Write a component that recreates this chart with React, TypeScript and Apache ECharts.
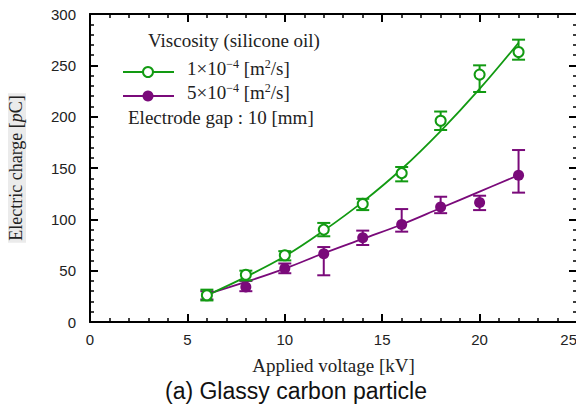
import React, { useEffect, useRef } from "react";
import * as echarts from "echarts";

// Applied voltage [kV]
const voltage = [6, 8, 10, 12, 14, 16, 18, 20, 22];

// Viscosity 1×10^-4 m²/s : mean charge and error range [pC]
const chargeLowVisc = [26, 46, 65, 90, 115, 145, 196, 241, 263];
const lowViscMin = [21, 40.5, 60, 83.5, 109, 137, 187, 224, 255.5];
const lowViscMax = [31.5, 50, 69, 96.5, 120, 151, 205, 250, 275];
const fitLowVisc = [26, 44, 64, 89, 117, 149, 186, 227, 272];

// Viscosity 5×10^-4 m²/s : mean charge and error range [pC]
const chargeHighVisc = [26, 34, 52, 66.5, 82, 95, 112, 116.5, 143];
const highViscMin = [22, 30, 47.5, 45.5, 75, 88, 106, 109, 126];
const highViscMax = [30, 40, 57, 73, 89, 110, 122, 123, 167.5];
const fitHighVisc = [27, 39, 52, 67, 81, 95, 111, 127, 143];

const xTicks = [0, 5, 10, 15, 20, 25];
const yTicks = [0, 50, 100, 150, 200, 250, 300];

const GREEN = "#129a12";
const PURPLE = "#7a0a7a";
const SERIF = "'Liberation Serif', 'DejaVu Serif', serif";
const SANS = "'Liberation Sans', Arial, sans-serif";

const pairs = (ys: number[]) => voltage.map((v, i) => [v, ys[i]]);
const ranges = (lo: number[], hi: number[]) =>
  voltage.map((v, i) => [v, lo[i], hi[i]]);

const errorBars = (color: string, lo: number[], hi: number[], z: number) => ({
  type: "custom",
  z,
  data: ranges(lo, hi),
  renderItem: (_params: any, api: any) => {
    const x = api.value(0);
    const top = api.coord([x, api.value(2)]);
    const bot = api.coord([x, api.value(1)]);
    const hw = 6.5;
    const style = { stroke: color, lineWidth: 2 };
    return {
      type: "group",
      children: [
        { type: "line", shape: { x1: top[0], y1: top[1], x2: bot[0], y2: bot[1] }, style },
        { type: "line", shape: { x1: top[0] - hw, y1: top[1], x2: top[0] + hw, y2: top[1] }, style },
        { type: "line", shape: { x1: bot[0] - hw, y1: bot[1], x2: bot[0] + hw, y2: bot[1] }, style },
      ],
    };
  },
});

const FS = 19;
const sup = { fontSize: 12, verticalAlign: "top", fontFamily: SERIF, fill: "#222", padding: [0, 0, 9, 0] };
const norm = { fontSize: FS, fontFamily: SERIF, fill: "#222" };

export default function App() {
  const ref = useRef<HTMLDivElement>(null);

  useEffect(() => {
    if (!ref.current) return;
    const chart = echarts.init(ref.current, null, { renderer: "svg" });

    const axisCommon = {
      axisLine: { show: true, onZero: false, lineStyle: { color: "#000", width: 2 } },
      axisTick: { show: true, inside: true, length: 8, lineStyle: { color: "#000", width: 2 } },
      minorTick: { show: true, splitNumber: 5, length: 4, lineStyle: { color: "#000", width: 1.5 } },
      splitLine: { show: false },
    };

    chart.setOption({
      animation: false,
      backgroundColor: "#fff",
      grid: { left: 90, right: 7, top: 14, bottom: 90, outerBoundsMode: "none", containLabel: false },
      xAxis: [
        {
          type: "value",
          min: 0,
          max: 25,
          interval: 5,
          ...axisCommon,
          axisLabel: {
            color: "#222",
            fontFamily: SANS,
            fontSize: 15,
            margin: 10,
            alignMaxLabel: "right",
            formatter: (v: number) => (xTicks.includes(v) ? String(v) : ""),
          },
          name: "Applied voltage [kV]",
          nameLocation: "middle",
          nameGap: 34,
          nameTextStyle: { fontFamily: SERIF, fontSize: FS, color: "#222" },
        },
        {
          type: "value",
          position: "top",
          min: 0,
          max: 25,
          interval: 5,
          ...axisCommon,
          axisLabel: { show: false },
        },
      ],
      yAxis: [
        {
          type: "value",
          min: 0,
          max: 300,
          interval: 50,
          ...axisCommon,
          axisLabel: {
            color: "#222",
            fontFamily: SANS,
            fontSize: 15,
            margin: 14,
            formatter: (v: number) => (yTicks.includes(v) ? String(v) : ""),
          },
          name: "{n|Electric charge [}{i|p}{n|C]}",
          nameLocation: "middle",
          nameGap: 64,
          nameRotate: 90,
          nameTextStyle: {
            backgroundColor: "#ebebeb",
            padding: [1, 2, 1, 2],
            rich: {
              n: { fontFamily: SERIF, fontSize: 18, color: "#222" },
              i: { fontFamily: SERIF, fontSize: 18, color: "#222", fontStyle: "italic" },
            },
          },
        },
        {
          type: "value",
          position: "right",
          min: 0,
          max: 300,
          interval: 50,
          ...axisCommon,
          axisLabel: { show: false },
        },
      ],
      series: [
        {
          type: "line",
          data: pairs(fitHighVisc),
          smooth: 0.4,
          showSymbol: false,
          lineStyle: { color: PURPLE, width: 1.8 },
          z: 2,
        },
        {
          type: "line",
          data: pairs(fitLowVisc),
          smooth: 0.4,
          showSymbol: false,
          lineStyle: { color: GREEN, width: 1.8 },
          z: 2,
        },
        errorBars(PURPLE, highViscMin, highViscMax, 3),
        {
          type: "scatter",
          data: pairs(chargeHighVisc),
          symbol: "circle",
          symbolSize: 11,
          itemStyle: { color: PURPLE, opacity: 1 },
          z: 4,
        },
        errorBars(GREEN, lowViscMin, lowViscMax, 5),
        {
          type: "scatter",
          data: pairs(chargeLowVisc),
          symbol: "circle",
          symbolSize: 10,
          itemStyle: { color: "#fff", borderColor: GREEN, borderWidth: 2, opacity: 1 },
          z: 6,
        },
      ],
      graphic: [
        {
          type: "text",
          x: 296,
          y: 391,
          style: {
            text: "(a) Glassy carbon particle",
            font: `23px ${SANS}`,
            fill: "#111",
            align: "center",
            verticalAlign: "middle",
          },
        },
        {
          type: "text",
          left: 148,
          top: 31,
          style: { text: "Viscosity (silicone oil)", font: `${FS}px ${SERIF}`, fill: "#222" },
        },
        { type: "line", shape: { x1: 123, y1: 72, x2: 174, y2: 72 }, style: { stroke: GREEN, lineWidth: 2 } },
        { type: "circle", shape: { cx: 148, cy: 72, r: 5 }, style: { fill: "#fff", stroke: GREEN, lineWidth: 2 } },
        {
          type: "text",
          left: 187,
          top: 58,
          style: {
            text: "{n|1×10}{s|−4}{n| [m}{s|2}{n|/s]}",
            rich: { n: norm, s: sup },
          },
        },
        { type: "line", shape: { x1: 123, y1: 96, x2: 174, y2: 96 }, style: { stroke: PURPLE, lineWidth: 2 } },
        { type: "circle", shape: { cx: 148, cy: 96, r: 5.5 }, style: { fill: PURPLE } },
        {
          type: "text",
          left: 187,
          top: 82,
          style: {
            text: "{n|5×10}{s|−4}{n| [m}{s|2}{n|/s]}",
            rich: { n: norm, s: sup },
          },
        },
        {
          type: "text",
          left: 128,
          top: 108,
          style: { text: "Electrode gap : 10 [mm]", font: `${FS}px ${SERIF}`, fill: "#222" },
        },
      ],
    });

    return () => chart.dispose();
  }, []);

  return <div ref={ref} style={{ width: 584, height: 412, margin: -8 }} />;
}
